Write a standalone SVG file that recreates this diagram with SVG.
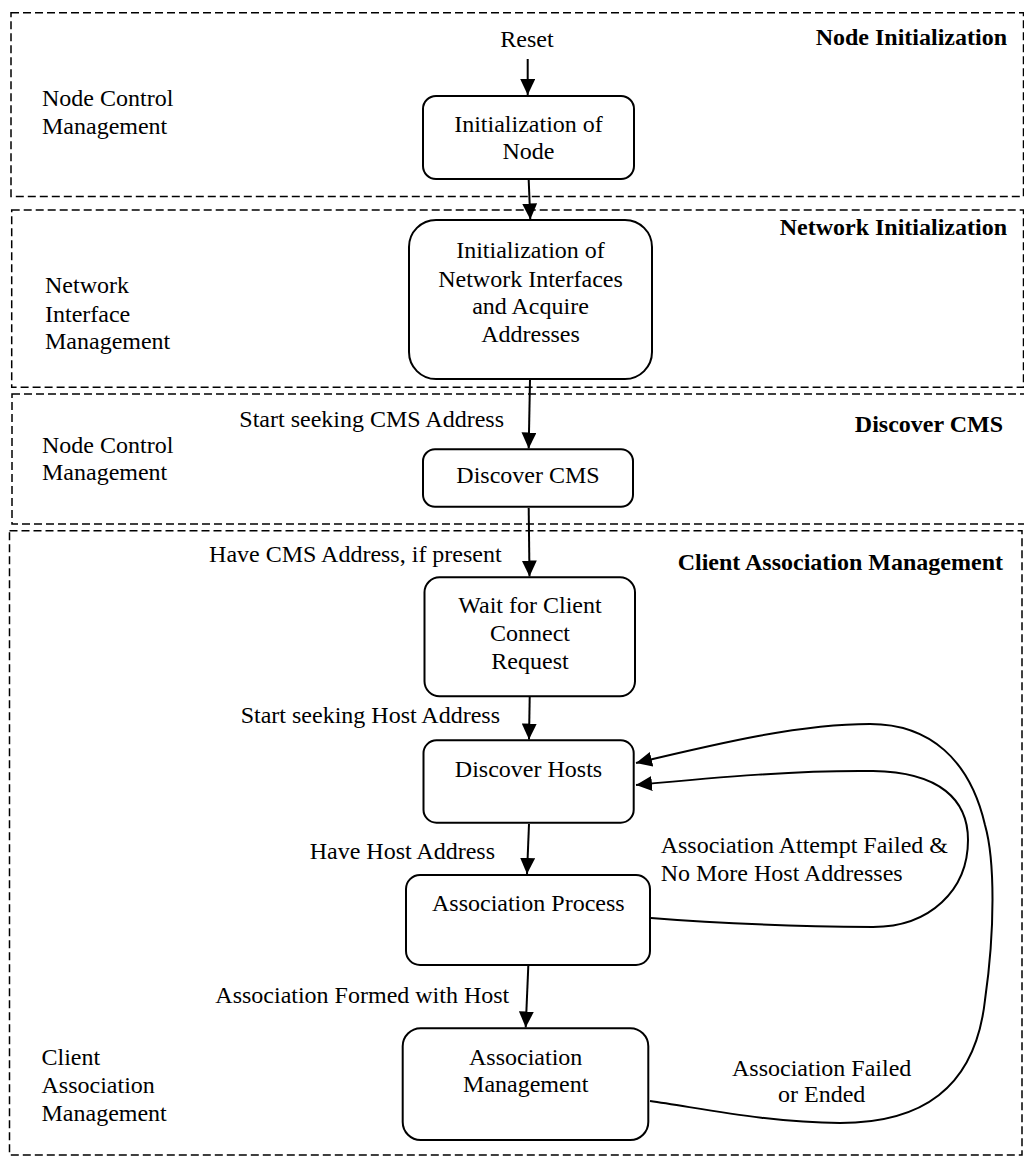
<svg xmlns="http://www.w3.org/2000/svg" width="1024" height="1157" viewBox="0 0 1024 1157">
  <style>
    .panel { fill: none; stroke: #000; stroke-width: 1.5; stroke-dasharray: 8 4; }
    .box { fill: #fff; stroke: #000; stroke-width: 2; }
    .edge { fill: none; stroke: #000; stroke-width: 2; marker-end: url(#arrow); }
    text { font-family: "Liberation Serif", "Times New Roman", serif; font-size: 24px; fill: #000; }
    .title { font-weight: bold; text-anchor: end; }
    .c { text-anchor: middle; }
    .r { text-anchor: end; }
  </style>
  <defs>
    <marker id="arrow" markerUnits="userSpaceOnUse" markerWidth="16" markerHeight="15" refX="16" refY="7.5" orient="auto">
      <path d="M0,0 L16,7.5 L0,15 z" fill="#000"/>
    </marker>
  </defs>

  <!-- Swimlane panels -->
  <g id="panels">
    <rect class="panel" x="11" y="12.7" width="1012.5" height="183.8"/>
    <rect class="panel" x="11.7" y="210" width="1011.8" height="177.3"/>
    <rect class="panel" x="12" y="394" width="1018" height="130"/>
    <rect class="panel" x="9.5" y="530.7" width="1012.5" height="624.3"/>
  </g>

  <!-- Lane titles and side labels -->
  <g id="lane-labels">
    <text class="title" x="1007" y="45">Node Initialization</text>
    <text class="title" x="1007" y="235">Network Initialization</text>
    <text class="title" x="1003" y="431.7">Discover CMS</text>
    <text class="title" x="1003" y="570">Client Association Management</text>

    <text x="42" y="106">Node Control</text>
    <text x="42" y="133.5">Management</text>

    <text x="45" y="293">Network</text>
    <text x="45" y="321.5">Interface</text>
    <text x="45" y="349">Management</text>

    <text x="42" y="452.7">Node Control</text>
    <text x="42" y="480">Management</text>

    <text x="41.5" y="1065">Client</text>
    <text x="41.5" y="1092.7">Association</text>
    <text x="41.5" y="1120.5">Management</text>
  </g>

  <!-- Connectors -->
  <g id="connectors">
    <path class="edge" d="M527.7,59 L527.7,95"/>
    <path class="edge" d="M528.7,180 L530.3,219.5"/>
    <path class="edge" d="M530,380 L528.7,448.5"/>
    <path class="edge" d="M528.7,508 L529.5,576.5"/>
    <path class="edge" d="M529.7,697 L529,739.5"/>
    <path class="edge" d="M529,824 L527,874"/>
    <path class="edge" d="M528.3,966 L525.7,1027.5"/>
    <path class="edge" d="M651,918 C700,922 780,926 873,927 C930,927 968,890 968,840 C968,800 940,772 873,771 C800,770 720,777 636,785"/>
    <path class="edge" d="M650,1101 C700,1108 770,1123 840,1123 C920,1123 975,1090 985,1000 C995,930 995,860 985,825 C970,760 930,724 870,724 C800,724 720,743 636,763"/>

    <text class="c" x="527" y="46.7">Reset</text>
    <text class="r" x="504" y="426.7">Start seeking CMS Address</text>
    <text class="r" x="501.7" y="561.7">Have CMS Address, if present</text>
    <text class="r" x="500" y="723.3">Start seeking Host Address</text>
    <text class="r" x="495" y="859.3">Have Host Address</text>
    <text class="r" x="509.3" y="1002.7">Association Formed with Host</text>
    <text x="660.7" y="853">Association Attempt Failed &amp;</text>
    <text x="660.7" y="880.5">No More Host Addresses</text>
    <text class="c" x="821.7" y="1076">Association Failed</text>
    <text class="c" x="821.7" y="1101.7">or Ended</text>
  </g>

  <!-- States -->
  <g id="node-init">
    <rect class="box" x="423" y="96" width="211" height="83" rx="13"/>
    <text class="c" x="528.5" y="131.7">Initialization of</text>
    <text class="c" x="528.5" y="159">Node</text>
  </g>
  <g id="network-init">
    <rect class="box" x="409" y="220" width="243" height="159" rx="27"/>
    <text class="c" x="530.5" y="258">Initialization of</text>
    <text class="c" x="530.5" y="286.5">Network Interfaces</text>
    <text class="c" x="530.5" y="313.5">and Acquire</text>
    <text class="c" x="530.5" y="341.7">Addresses</text>
  </g>
  <g id="discover-cms">
    <rect class="box" x="423" y="449.3" width="210" height="57.4" rx="12"/>
    <text class="c" x="528" y="483">Discover CMS</text>
  </g>
  <g id="wait-client">
    <rect class="box" x="424.5" y="577.3" width="210.5" height="119" rx="15"/>
    <text class="c" x="530" y="612.7">Wait for Client</text>
    <text class="c" x="530" y="641">Connect</text>
    <text class="c" x="530" y="669">Request</text>
  </g>
  <g id="discover-hosts">
    <rect class="box" x="423.5" y="740.3" width="210.2" height="82.4" rx="13"/>
    <text class="c" x="528.5" y="776.7">Discover Hosts</text>
  </g>
  <g id="association-process">
    <rect class="box" x="406" y="875" width="244" height="90" rx="14"/>
    <text class="c" x="528.3" y="910.5">Association Process</text>
  </g>
  <g id="association-management">
    <rect class="box" x="402.7" y="1028.3" width="245.6" height="111.7" rx="18"/>
    <text class="c" x="525.7" y="1065">Association</text>
    <text class="c" x="525.7" y="1092.3">Management</text>
  </g>
</svg>
